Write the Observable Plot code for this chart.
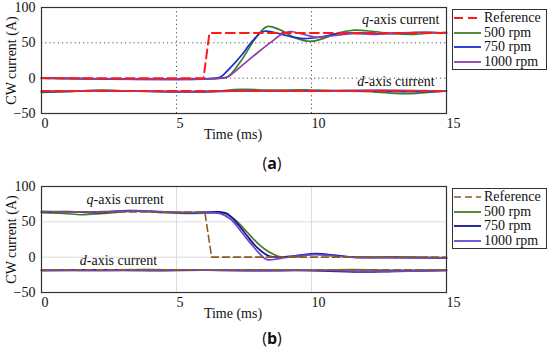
<!DOCTYPE html>
<html><head><meta charset="utf-8">
<script src="https://cdn.jsdelivr.net/npm/d3@7"></script>
<script src="https://cdn.jsdelivr.net/npm/@observablehq/plot@0.6"></script>
<style>
body{margin:0;background:#fff;}
#wrap{position:relative;width:550px;height:352px;background:#fff;font-family:"Liberation Serif","Times New Roman",Times,"DejaVu Serif",serif;}
#wrap svg text{font-family:"Liberation Serif","Times New Roman",Times,"DejaVu Serif",serif;}
.p{position:absolute;left:0;}
.leg{position:absolute;left:452px;width:93px;border:1px solid #333;background:#fff;font-size:14px;line-height:14.6px;padding-top:1px;color:#111;}
.leg div{display:flex;align-items:center;height:14.6px;}
.leg svg{margin-left:1px;margin-right:3px;}
.cap{position:absolute;font-family:"Open Sans","Noto Sans",sans-serif;font-size:16px;width:40px;text-align:center;color:#111;}
</style></head><body>
<div id="wrap"></div>
<script>
// ---- data ----
const xTicks = [0, 5, 10, 15];
const yTicks = [-50, 0, 50, 100];
const seriesNames = ["Reference", "500 rpm", "750 rpm", "1000 rpm"];

// (a) step up of q-axis current
const aRefQ = [[0,0],[6.0,0],[6.22,64],[15,64]];
const aRefD = [[0,-18],[15,-18]];
const a500Q = [[0,0],[6.6,0],[6.9,2],[7.4,25],[7.9,55],[8.35,73],[8.8,69],[9.4,57],[9.95,52],[10.5,57],[11.0,64],[11.6,68],[12.3,66],[13.0,63],[13.8,62],[14.5,64],[15,65]];
const a750Q = [[0,0],[6.5,0],[6.65,2],[7.0,15],[7.4,32],[7.8,52],[8.2,66],[8.6,65],[9.1,60],[9.7,56],[10.3,58],[11,63],[11.8,64],[12.5,63],[13.5,64],[14.3,65],[15,64]];
const a1000Q = [[0,0],[6.7,0],[6.9,2],[7.4,17],[8.0,36],[8.5,51],[8.9,62],[9.2,66],[9.6,63],[10.2,58],[10.8,60],[11.5,63],[12.3,62],[13.2,64],[14,65],[15,64]];
const a500D = [[0,-20],[1,-19],[2.2,-17],[3.5,-18.5],[5,-19.5],[6.2,-19],[7.4,-16],[8.5,-17],[9.7,-16.5],[11,-18],[12.2,-19],[13.4,-22],[14.3,-20],[15,-18]];
const a750D = [[0,-19],[2,-18],[4,-18.5],[6,-19],[8,-18],[10,-18],[12,-17.5],[13.5,-19],[15,-18.5]];
const a1000D = [[0,-18.5],[2.5,-17.5],[5,-19],[7.5,-17.5],[10,-18.5],[12.5,-17],[15,-18.5]];

// (b) step down of q-axis current
const bRefQ = [[0,64],[6.05,64],[6.3,0],[15,0]];
const bRefD = [[0,-18],[15,-18]];
const b500Q = [[0,63],[0.8,62],[1.5,60],[2.3,62],[3.5,65],[4.5,63],[5.5,62],[6.4,62.5],[6.8,62],[7.2,52],[7.6,36],[8.0,20],[8.4,8],[8.8,1],[9.3,0],[10.1,4],[10.8,2],[11.5,0],[13,-0.5],[15,-1]];
const b750Q = [[0,64],[1,64.5],[2,63],[3.2,66],[4.5,64],[5.5,63],[6.6,64],[6.85,62],[7.2,50],[7.6,31],[8.0,13],[8.4,2],[8.8,0],[9.4,2],[10.15,5],[10.8,3],[11.5,0],[13,0],[15,-1]];
const b1000Q = [[0,65],[1.2,64],[2.3,64.5],[3.5,66],[4.8,63.5],[6.0,63],[6.6,62],[7.0,54],[7.4,36],[7.8,17],[8.1,4],[8.35,-3.5],[8.8,-2],[9.5,2],[10.15,4],[10.8,2],[11.5,0],[15,-1]];
const b500D = [[0,-18.5],[2,-18],[4,-17.5],[6,-18.5],[8,-18],[10,-18.5],[11.5,-17.5],[13,-18.5],[15,-18]];
const b750D = [[0,-19],[2,-18],[4,-19],[6,-18.5],[8,-19],[10,-19],[12,-21],[13,-20],[15,-18.5]];
const b1000D = [[0,-18.5],[2.5,-19],[5,-18],[7.5,-19],[10,-18.5],[12,-20],[15,-19]];

// annotations
const aNotes = [{t:14.74, v:76, text:"q-axis current"}, {t:14.56, v:-11.4, text:"d-axis current"}];
const bNotes = [{t:1.67, v:75, text:"q-axis current"}, {t:1.42, v:-11.4, text:"d-axis current"}];

const aColors = ["#ff1a1a", "#3e7d2e", "#1a2ec8", "#8e3fa8"];
const bColors = ["#8b5a2b", "#4a7a2a", "#14148f", "#6a45d8"];

// ---- drawing ----
const toRows = (pts, s) => pts.map(([t, v]) => ({t, v, s}));
const FONT = '"Liberation Serif", "Times New Roman", Times, serif';

function chart(top, mTop, mBottom, refQ, refD, q, d, colors, notes, noteAnchor, dotted, caption, capTop) {
  const wrap = document.getElementById("wrap");
  const lines = [];
  [1, 2, 3].forEach(i => {
    lines.push(Plot.line(toRows(d[i-1], seriesNames[i]), {x:"t", y:"v", stroke: colors[i], strokeWidth: 1.7, curve: "catmull-rom"}));
    lines.push(Plot.line(toRows(q[i-1], seriesNames[i]), {x:"t", y:"v", stroke: colors[i], strokeWidth: 1.7, curve: "catmull-rom"}));
  });
  const dash = dotted ? "9,5" : "7,4";
  const refW = dotted ? 2 : 1.6;
  lines.push(Plot.line(toRows(refD, "Reference"), {x:"t", y:"v", stroke: colors[0], strokeWidth: refW, strokeDasharray: dash}));
  lines.push(Plot.line(toRows(refQ, "Reference"), {x:"t", y:"v", stroke: colors[0], strokeWidth: refW, strokeDasharray: dash}));

  const grid = dotted
    ? [Plot.gridX([5, 10], {stroke:"#555", strokeOpacity:1, strokeDasharray:"1.2,3"}), Plot.gridY([0, 50], {stroke:"#555", strokeOpacity:1, strokeDasharray:"1.2,3"})]
    : [Plot.gridX([5, 10], {stroke:"#ddd", strokeOpacity:1}), Plot.gridY([0, 50], {stroke:"#ddd", strokeOpacity:1})];

  const p = Plot.plot({
    width: 550, height: 176,
    marginLeft: 41, marginRight: 104, marginTop: mTop, marginBottom: mBottom,
    style: {fontFamily: FONT, fontSize: "14px", color: "#111", background: "transparent"},
    x: {domain: [0, 15]},
    y: {domain: [-50, 100]},
    marks: [
      ...grid,
      ...lines,
      Plot.axisX({ticks: xTicks, tickSize: 0, tickPadding: 5, textAnchor: "start", fontSize: 14, label: null}),
      Plot.axisY({ticks: yTicks, tickSize: 0, tickPadding: 6, fontSize: 14, label: "CW current (A)", labelAnchor: "center", labelArrow: "none", labelOffset: 35}),
      Plot.text(["Time (ms)"], {frameAnchor: "bottom", dy: 16, dx: -11, fontSize: 14, fill: "#111", lineAnchor: "top"}),
      Plot.text(notes, {x: "t", y: "v", text: "text", textAnchor: noteAnchor, lineAnchor: "bottom", fontSize: 14, fill: "#111", className: "note"}),
      Plot.frame({stroke: "#333", strokeWidth: 1.2})
    ]
  });
  p.classList.add("p");
  p.style.top = top + "px";
  wrap.appendChild(p);
  p.querySelectorAll(".note text").forEach(t => {
    const s = t.textContent;
    t.textContent = "";
    const it = document.createElementNS("http://www.w3.org/2000/svg", "tspan");
    it.setAttribute("font-style", "italic");
    it.textContent = s[0];
    t.appendChild(it);
    t.appendChild(document.createTextNode(s.slice(1)));
  });

  const leg = document.createElement("div");
  leg.className = "leg";
  leg.style.top = (top + mTop + 2) + "px";
  seriesNames.forEach((name, i) => {
    const row = document.createElement("div");
    const da = i === 0 ? `stroke-dasharray="${dash}"` : "";
    row.innerHTML = `<svg width="27" height="6"><line x1="0" y1="3" x2="27" y2="3" stroke="${colors[i]}" stroke-width="${i === 0 ? refW : 1.8}" ${da}/></svg><span>${name}</span>`;
    leg.appendChild(row);
  });
  wrap.appendChild(leg);

  const cap = document.createElement("div");
  cap.className = "cap";
  cap.style.left = "252px";
  cap.style.top = capTop + "px";
  cap.innerHTML = `(<b>${caption}</b>)`;
  wrap.appendChild(cap);
}

chart(0, 7, 63, aRefQ, aRefD, [a500Q, a750Q, a1000Q], [a500D, a750D, a1000D], aColors, aNotes, "end", true, "a", 152);
chart(176, 10, 60, bRefQ, bRefD, [b500Q, b750Q, b1000Q], [b500D, b750D, b1000D], bColors, bNotes, "start", false, "b", 327);
</script>
</body></html>
